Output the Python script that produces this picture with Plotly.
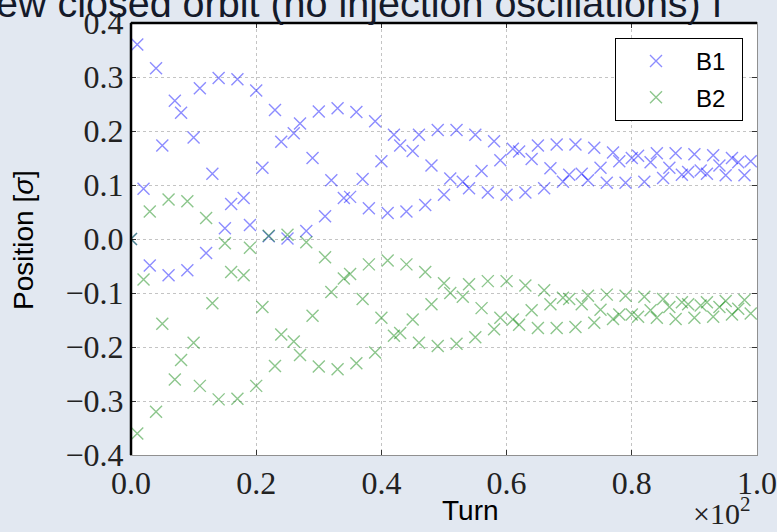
import plotly.graph_objects as go

turns = list(range(100))

b1 = [0.000, 0.360, 0.093, -0.049, 0.316, 0.173, -0.067, 0.256, 0.234, -0.058,
      0.188, 0.279, -0.026, 0.121, 0.298, 0.020, 0.065, 0.296, 0.076, 0.026,
      0.275, 0.132, 0.005, 0.239, 0.180, 0.001, 0.196, 0.214, 0.015, 0.150,
      0.236, 0.042, 0.109, 0.242, 0.076, 0.078, 0.235, 0.111, 0.057, 0.218,
      0.144, 0.048, 0.193, 0.173, 0.051, 0.163, 0.193, 0.063, 0.136, 0.202,
      0.082, 0.112, 0.202, 0.106, 0.094, 0.193, 0.126, 0.086, 0.181, 0.146,
      0.082, 0.167, 0.162, 0.086, 0.148, 0.173, 0.094, 0.131, 0.175, 0.106,
      0.119, 0.175, 0.121, 0.109, 0.169, 0.132, 0.104, 0.160, 0.144, 0.104,
      0.150, 0.154, 0.106, 0.142, 0.159, 0.113, 0.132, 0.159, 0.119, 0.124,
      0.157, 0.127, 0.121, 0.155, 0.136, 0.118, 0.150, 0.142, 0.118, 0.144]

b2 = [0.000, -0.360, -0.075, 0.051, -0.320, -0.157, 0.073, -0.260, -0.224, 0.070,
      -0.192, -0.272, 0.039, -0.119, -0.297, -0.008, -0.061, -0.296, -0.067, -0.016,
      -0.272, -0.126, 0.006, -0.235, -0.177, 0.008, -0.190, -0.215, -0.006, -0.142,
      -0.236, -0.034, -0.098, -0.241, -0.073, -0.065, -0.230, -0.111, -0.047, -0.210,
      -0.146, -0.040, -0.179, -0.174, -0.047, -0.149, -0.192, -0.061, -0.121, -0.198,
      -0.082, -0.100, -0.194, -0.107, -0.084, -0.182, -0.128, -0.078, -0.167, -0.146,
      -0.078, -0.149, -0.159, -0.086, -0.132, -0.165, -0.095, -0.121, -0.165, -0.109,
      -0.111, -0.163, -0.121, -0.105, -0.155, -0.131, -0.103, -0.148, -0.140, -0.105,
      -0.140, -0.144, -0.107, -0.132, -0.146, -0.111, -0.126, -0.148, -0.117, -0.121,
      -0.146, -0.123, -0.117, -0.144, -0.126, -0.115, -0.140, -0.129, -0.113, -0.138]

x_ticks = [0, 20, 40, 60, 80, 100]
x_tick_labels = ["0.0", "0.2", "0.4", "0.6", "0.8", "1.0"]
y_ticks = [-0.4, -0.3, -0.2, -0.1, 0.0, 0.1, 0.2, 0.3, 0.4]
y_tick_labels = ["\u22120.4", "\u22120.3", "\u22120.2", "\u22120.1", "0.0", "0.1", "0.2", "0.3", "0.4"]

PL, PR, PT, PB = 131, 757, 23, 455
W, H = 777, 532
pw, ph = PR - PL, PB - PT


def px(x):
    return (x - PL) / pw


def py(y):
    return (PB - y) / ph


fig = go.Figure()
fig.add_trace(go.Scatter(
    x=turns, y=b1, mode="markers", name="B1\u00a0\u2009", legendgroup="b1",
    marker=dict(symbol="x-thin", size=12, color="rgba(0,0,255,0.45)",
                line=dict(color="rgba(0,0,255,0.45)", width=1.4))))
fig.add_trace(go.Scatter(
    x=turns, y=b2, mode="markers", name="B2\u00a0\u2009", legendgroup="b2",
    marker=dict(symbol="x-thin", size=12, color="rgba(0,128,0,0.45)",
                line=dict(color="rgba(0,128,0,0.45)", width=1.4))))

serif = "Liberation Serif"
fig.update_layout(
    width=W, height=H,
    margin=dict(l=PL, r=W - PR, t=PT, b=H - PB, autoexpand=False),
    paper_bgcolor="#e2e8f1",
    plot_bgcolor="white",
    showlegend=True,
    legend=dict(x=px(743), y=py(38), xanchor="right", yanchor="top",
                bgcolor="white", bordercolor="black", borderwidth=1,
                font=dict(family="Liberation Sans", size=24, color="black"),
                tracegroupgap=2, itemwidth=70),
    xaxis=dict(range=[0, 100], tickvals=x_ticks, ticktext=x_tick_labels,
               automargin=False,
               showgrid=True, gridcolor="#c4c4c4", griddash="dot", gridwidth=1,
               zeroline=False, showline=True, linecolor="#909090", linewidth=1,
               mirror="ticks", ticks="inside", ticklen=5, tickcolor="#333",
               tickfont=dict(family=serif, size=32, color="#222")),
    yaxis=dict(range=[-0.4, 0.4], tickvals=y_ticks, ticktext=y_tick_labels,
               automargin=False,
               showgrid=True, gridcolor="#c4c4c4", griddash="dot", gridwidth=1,
               zeroline=False, showline=True, linecolor="#909090", linewidth=1,
               mirror="ticks", ticks="inside", ticklen=5, tickcolor="#333",
               tickfont=dict(family=serif, size=32, color="#222")),
    shapes=[
        dict(type="line", xref="paper", yref="paper", x0=0, x1=1, y0=1, y1=1,
             line=dict(color="black", width=2.5)),
        dict(type="line", xref="paper", yref="paper", x0=0, x1=0, y0=0, y1=1,
             line=dict(color="black", width=2.5)),
    ],
    annotations=[
        dict(text="ew closed orbit (no injection oscillations) f",
             xref="paper", yref="paper", x=px(-6), y=py(27),
             xanchor="left", yanchor="bottom", showarrow=False,
             font=dict(family="Liberation Sans", size=39.5, color="#141a2a")),
        dict(text="Turn", xref="paper", yref="paper", x=px(471), y=py(510),
             xanchor="center", yanchor="middle", showarrow=False,
             font=dict(family="Liberation Sans", size=28, color="black")),
        dict(text="Position [<i>\u03c3</i>]", xref="paper", yref="paper",
             x=px(23), y=py(240), xanchor="center", yanchor="middle",
             textangle=-90, showarrow=False,
             font=dict(family="Liberation Sans", size=28, color="black")),
        dict(text="\u00d710<sup>2</sup>", xref="paper", yref="paper",
             x=px(752), y=py(511), xanchor="right", yanchor="middle", showarrow=False,
             font=dict(family=serif, size=30, color="#222")),
    ],
)

fig.write_html("out.html")
